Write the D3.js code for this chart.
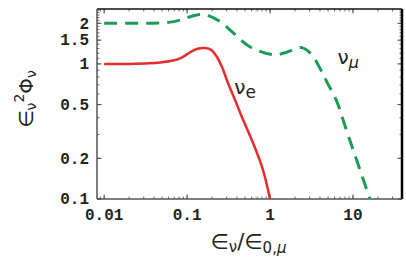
<!DOCTYPE html>
<html>
<head>
<meta charset="utf-8">
<script src="https://cdn.jsdelivr.net/npm/d3@7/dist/d3.min.js"></script>
<style>
  body { margin: 0; background: #fff; }
  svg text { font-family: "Liberation Mono", "DejaVu Sans Mono", monospace; fill: #222; }
</style>
</head>
<body>
<div id="chart"></div>
<script>
'use strict';

// ratio e_nu / e_0,mu
var nueX = [0.01, 0.02, 0.035, 0.05, 0.068, 0.085, 0.109, 0.131, 0.165, 0.195, 0.228, 0.262, 0.312, 0.379, 0.454, 0.624, 0.82, 1.0];
var nueY = [1.0, 1.0, 1.01, 1.03, 1.06, 1.11, 1.22, 1.29, 1.31, 1.27, 1.13, 0.955, 0.72, 0.54, 0.41, 0.26, 0.165, 0.1];

var numuX = [0.01, 0.03, 0.06, 0.08, 0.1, 0.13, 0.15, 0.18, 0.25, 0.36, 0.57, 1.09, 1.52, 2.41, 3.18, 4.2, 4.82, 6.36, 8.24, 10.6, 16];
var numuY = [2.0, 2.0, 2.03, 2.1, 2.2, 2.3, 2.33, 2.28, 2.06, 1.7, 1.34, 1.17, 1.21, 1.32, 1.17, 0.877, 0.74, 0.53, 0.33, 0.21, 0.1];

var xTicks = [0.01, 0.1, 1, 10];
var xTickLabels = ['0.01', '0.1', '1', '10'];
var yTicks = [0.1, 0.2, 0.5, 1, 1.5, 2];
var yTickLabels = ['0.1', '0.2', '0.5', '1', '1.5', '2'];

var W = 406, H = 262;
var margin = {top: 9, right: 4, bottom: 63, left: 97};
var width = W - margin.left - margin.right,
    height = H - margin.top - margin.bottom;

var svg = d3.select('#chart').append('svg')
    .attr('width', W)
    .attr('height', H)
  .append('g')
    .attr('transform', 'translate(' + margin.left + ',' + margin.top + ')');

var x = d3.scaleLog().domain([0.0082, 39]).range([0, width]);
var y = d3.scaleLog().domain([0.1, 2.55]).range([height, 0]);

// minor ticks
var xMinor = [];
[0.001, 0.01, 0.1, 1, 10].forEach(function(d) {
    for (var k = 1; k < 10; k++) { if (d * k < 39 && d * k > 0.0082) xMinor.push(d * k); }
});
var yMinor = [];
for (var k = 1; k <= 25; k++) { yMinor.push(k / 10); }

function tickLines(vals, horiz, len, sw) {
    vals.forEach(function(v) {
        if (horiz) {
            svg.append('line').attr('x1', x(v)).attr('x2', x(v)).attr('y1', height).attr('y2', height - len)
                .attr('stroke', '#444').attr('stroke-width', sw);
            svg.append('line').attr('x1', x(v)).attr('x2', x(v)).attr('y1', 0).attr('y2', len)
                .attr('stroke', '#444').attr('stroke-width', sw);
        } else {
            svg.append('line').attr('y1', y(v)).attr('y2', y(v)).attr('x1', 0).attr('x2', len)
                .attr('stroke', '#444').attr('stroke-width', sw);
            svg.append('line').attr('y1', y(v)).attr('y2', y(v)).attr('x1', width).attr('x2', width - len)
                .attr('stroke', '#444').attr('stroke-width', sw);
        }
    });
}
tickLines(xMinor, true, 2.5, 0.8);
tickLines(xTicks, true, 4.5, 1);
tickLines(yMinor.filter(function(v){ return v <= 2.55; }), false, 2.5, 0.8);
tickLines(yTicks, false, 4.5, 1);

// frame
svg.append('line').attr('x1', 0).attr('x2', width).attr('y1', 0).attr('y2', 0).attr('stroke', '#111').attr('stroke-width', 1.5);
svg.append('line').attr('x1', width).attr('x2', width).attr('y1', 0).attr('y2', height).attr('stroke', '#000').attr('stroke-width', 2.5);
svg.append('line').attr('x1', 0).attr('x2', 0).attr('y1', 0).attr('y2', height).attr('stroke', '#555').attr('stroke-width', 1.5);
svg.append('line').attr('x1', 0).attr('x2', width).attr('y1', height).attr('y2', height).attr('stroke', '#555').attr('stroke-width', 1.5);

// tick labels
svg.selectAll('text.xt').data(xTicks).enter().append('text')
    .attr('class', 'xt')
    .attr('x', function(d) { return x(d); })
    .attr('y', height + 21)
    .attr('text-anchor', 'middle')
    .style('font-size', '16px')
    .style('font-weight', 'bold')
    .text(function(d, i) { return xTickLabels[i]; });

svg.selectAll('text.yt').data(yTicks).enter().append('text')
    .attr('class', 'yt')
    .attr('x', -8)
    .attr('y', function(d) { return y(d); })
    .attr('dy', '0.33em')
    .attr('text-anchor', 'end')
    .style('font-size', '16px')
    .style('font-weight', 'bold')
    .text(function(d, i) { return yTickLabels[i]; });

// curves
var line = d3.line()
    .x(function(d) { return x(d[0]); })
    .y(function(d) { return y(d[1]); })
    .curve(d3.curveCatmullRom.alpha(0.5));

var defs = svg.append('defs');
defs.append('clipPath').attr('id', 'clip').append('rect')
    .attr('x', 0).attr('y', 0).attr('width', width).attr('height', height);

svg.append('path')
    .datum(d3.zip(numuX, numuY))
    .attr('clip-path', 'url(#clip)')
    .attr('fill', 'none')
    .attr('stroke', '#1a9c55')
    .attr('stroke-width', 3)
    .attr('stroke-dasharray', '13,8')
    .attr('d', line);

svg.append('path')
    .datum(d3.zip(nueX, nueY))
    .attr('clip-path', 'url(#clip)')
    .attr('fill', 'none')
    .attr('stroke', '#e52d2d')
    .attr('stroke-width', 2.5)
    .attr('d', line);

// curve labels
var lab1 = svg.append('text').attr('x', x(0.37)).attr('y', y(0.6))
    .style('font-size', '20px').style('font-family', 'DejaVu Sans');
lab1.append('tspan').text('ν');
lab1.append('tspan').attr('dy', 4).style('font-size', '17px').text('e');

var lab2 = svg.append('text').attr('x', x(6.5)).attr('y', y(1.0))
    .style('font-size', '20px').style('font-family', 'DejaVu Sans');
lab2.append('tspan').text('ν');
lab2.append('tspan').attr('dy', 4).style('font-size', '16px').style('font-style', 'italic').text('μ');

// axis titles
var xt = svg.append('text')
    .attr('x', x(0.55))
    .attr('y', height + 50)
    .attr('text-anchor', 'middle')
    .style('font-size', '21px').style('font-family', 'DejaVu Sans');
xt.append('tspan').text('∈');
xt.append('tspan').attr('dy', 3).style('font-size', '15px').text('ν');
xt.append('tspan').attr('dy', -3).text('/∈');
xt.append('tspan').attr('dy', 4).style('font-size', '15px').text('0,');
xt.append('tspan').style('font-size', '15px').style('font-style', 'italic').text('μ');

var yt = svg.append('text')
    .attr('transform', 'translate(' + (-64) + ',' + y(0.55) + ') rotate(-90)')
    .attr('text-anchor', 'middle')
    .style('font-size', '20px').style('font-family', 'DejaVu Sans');
yt.append('tspan').text('∈');
yt.append('tspan').attr('dy', 3).style('font-size', '14px').text('ν');
yt.append('tspan').attr('dy', -12).style('font-size', '14px').text('2');
yt.append('tspan').attr('dy', 9).text('Φ');
yt.append('tspan').attr('dy', 3).style('font-size', '14px').text('ν');
</script>
</body>
</html>
